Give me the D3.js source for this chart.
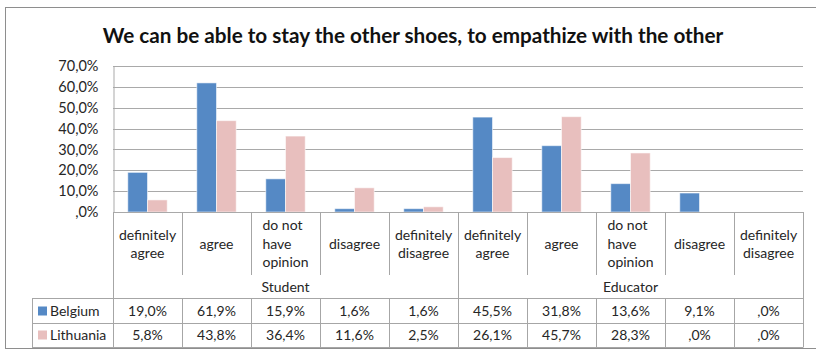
<!DOCTYPE html>
<html>
<head>
<meta charset="utf-8">
<script src="https://cdn.jsdelivr.net/npm/d3@7"></script>
<style>
  html, body { margin: 0; padding: 0; background: #fff; }
  svg { display: block; font-family: Lato, "Open Sans", sans-serif; }
</style>
</head>
<body>
<svg id="chart" width="816" height="352"></svg>
<script>
// Survey answers per respondent group, percent of respondents
const groups = ["Student", "Educator"];
const answers = ["definitely agree", "agree", "do not have opinion", "disagree", "definitely disagree"];
const answerLines = [["definitely", "agree"], ["agree"], ["do not", "have", "opinion"], ["disagree"], ["definitely", "disagree"]];
const seriesNames = ["Belgium", "Lithuania"];
const belgium = [19.0, 61.9, 15.9, 1.6, 1.6, 45.5, 31.8, 13.6, 9.1, 0.0];
const lithuania = [5.8, 43.8, 36.4, 11.6, 2.5, 26.1, 45.7, 28.3, 0.0, 0.0];
const yTicks = [0, 10, 20, 30, 40, 50, 60, 70];
const title = "We can be able to stay the other shoes, to empathize with the other";

const colors = { Belgium: "#5589c5", Lithuania: "#e8bfbe" };
const gridColor = "#a9a9a9";
const tableColor = "#a6a6a6";
const textColor = "#262626";
const fontSize = 14;

// one column per (group, answer) pair
const columns = [];
groups.forEach(g => answers.forEach((a, i) => columns.push({ key: g + "|" + a, group: g, answer: a, lines: answerLines[i] })));
const values = { Belgium: belgium, Lithuania: lithuania };

const fmt = v => (v === 0 ? ",0%" : d3.format(".1f")(v).replace(".", ",") + "%");

const svg = d3.select("#chart");

// outer chart frame
svg.append("rect")
  .attr("x", 5.5).attr("y", 7.5).attr("width", 830).attr("height", 341)
  .attr("fill", "#fff").attr("stroke", "#8e8e8e").attr("stroke-width", 1);

// title
svg.append("text")
  .attr("x", 413).attr("y", 43)
  .attr("text-anchor", "middle")
  .attr("font-size", 20.7).attr("font-weight", "bold")
  .attr("fill", "#111")
  .text(title);

const plot = { left: 113, right: 803, top: 66, bottom: 212 };

const x = d3.scaleBand().domain(columns.map(c => c.key)).range([plot.left, plot.right]).padding(0);
const xs = d3.scaleBand().domain(seriesNames).range([0, x.bandwidth()]).paddingInner(0).paddingOuter(0.75);
const y = d3.scaleLinear().domain([0, 70]).range([plot.bottom, plot.top]);

// horizontal gridlines
svg.append("g").selectAll("line").data(yTicks.filter(t => t > 0)).join("line")
  .attr("x1", plot.left).attr("x2", plot.right)
  .attr("y1", d => Math.round(y(d)) + 0.5).attr("y2", d => Math.round(y(d)) + 0.5)
  .attr("stroke", gridColor).attr("stroke-width", 1);

// y axis
const yAxis = d3.axisLeft(y).tickValues(yTicks).tickSize(0).tickPadding(15).tickFormat(fmt);
const gy = svg.append("g").attr("transform", `translate(${plot.left + 0.5},0)`).call(yAxis);
gy.select(".domain").attr("stroke", gridColor);
gy.selectAll("text").attr("font-size", 14.5).attr("fill", textColor).attr("font-family", "Lato, sans-serif");

// bars
const barG = svg.append("g");
seriesNames.forEach(s => {
  barG.append("g").selectAll("rect").data(columns.map((c, i) => ({ c, v: values[s][i] }))).join("rect")
    .attr("x", d => x(d.c.key) + xs(s))
    .attr("y", d => y(d.v))
    .attr("width", xs.bandwidth())
    .attr("height", d => y(0) - y(d.v))
    .attr("fill", colors[s])
    .attr("stroke", "rgba(255,255,255,0.55)")
    .attr("stroke-width", 1);
});

// category axis baseline
svg.append("line")
  .attr("x1", plot.left).attr("x2", plot.right)
  .attr("y1", plot.bottom + 0.5).attr("y2", plot.bottom + 0.5)
  .attr("stroke", gridColor);

// data table below the axis
const rows = { labelEnd: 275, groupLine: 298, row1: 323, row2: 347, legendLeft: 32 };
const table = svg.append("g").attr("stroke", tableColor).attr("stroke-width", 1);

// inner dividers between answers
x.domain().forEach((k, i) => {
  const isGroupEdge = i % answers.length === 0;
  const xx = Math.round(x(k)) + 0.5;
  table.append("line").attr("x1", xx).attr("x2", xx)
    .attr("y1", plot.bottom).attr("y2", isGroupEdge ? rows.row2 : rows.labelEnd);
  if (!isGroupEdge) {
    table.append("line").attr("x1", xx).attr("x2", xx)
      .attr("y1", rows.groupLine).attr("y2", rows.row2);
  }
});
table.append("line").attr("x1", plot.right + 0.5).attr("x2", plot.right + 0.5)
  .attr("y1", plot.bottom).attr("y2", rows.row2);
[rows.groupLine, rows.row1, rows.row2].forEach(yy => {
  table.append("line").attr("x1", rows.legendLeft).attr("x2", plot.right + 0.5)
    .attr("y1", yy + 0.5).attr("y2", yy + 0.5);
});
table.append("line").attr("x1", rows.legendLeft + 0.5).attr("x2", rows.legendLeft + 0.5)
  .attr("y1", rows.groupLine).attr("y2", rows.row2);

// answer labels
const lineH = 18.5;
const labelMid = 244;
const labelG = svg.append("g").attr("font-size", fontSize).attr("fill", textColor);
columns.forEach(c => {
  const cx = x(c.key) + x.bandwidth() / 2;
  const n = c.lines.length;
  const t = labelG.append("text").attr("text-anchor", "middle");
  c.lines.forEach((ln, j) => {
    t.append("tspan").attr("x", cx)
      .attr("y", labelMid + (j - (n - 1) / 2) * lineH)
      .attr("dy", "0.35em").text(ln);
  });
  if (n > 2) {
    // long three-line answer is set as a left-aligned block
    const w = t.node().getBBox().width;
    t.attr("text-anchor", "start").selectAll("tspan").attr("x", cx - w / 2);
  }
});

// group labels
groups.forEach(g => {
  const keys = columns.filter(c => c.group === g).map(c => c.key);
  const gx = (x(keys[0]) + x(keys[keys.length - 1]) + x.bandwidth()) / 2;
  labelG.append("text").attr("x", gx).attr("y", 287).attr("dy", "0.35em")
    .attr("text-anchor", "middle").text(g);
});

// value rows with legend keys
const rowMid = { Belgium: 311, Lithuania: 335 };
seriesNames.forEach(s => {
  labelG.append("rect").attr("x", 38).attr("y", rowMid[s] - 4.5).attr("width", 9).attr("height", 9)
    .attr("fill", colors[s]);
  labelG.append("text").attr("x", 50).attr("y", rowMid[s]).attr("dy", "0.35em").text(s);
  columns.forEach((c, i) => {
    labelG.append("text")
      .attr("x", x(c.key) + x.bandwidth() / 2).attr("y", rowMid[s]).attr("dy", "0.35em")
      .attr("text-anchor", "middle").text(fmt(values[s][i]));
  });
});
</script>
</body>
</html>
